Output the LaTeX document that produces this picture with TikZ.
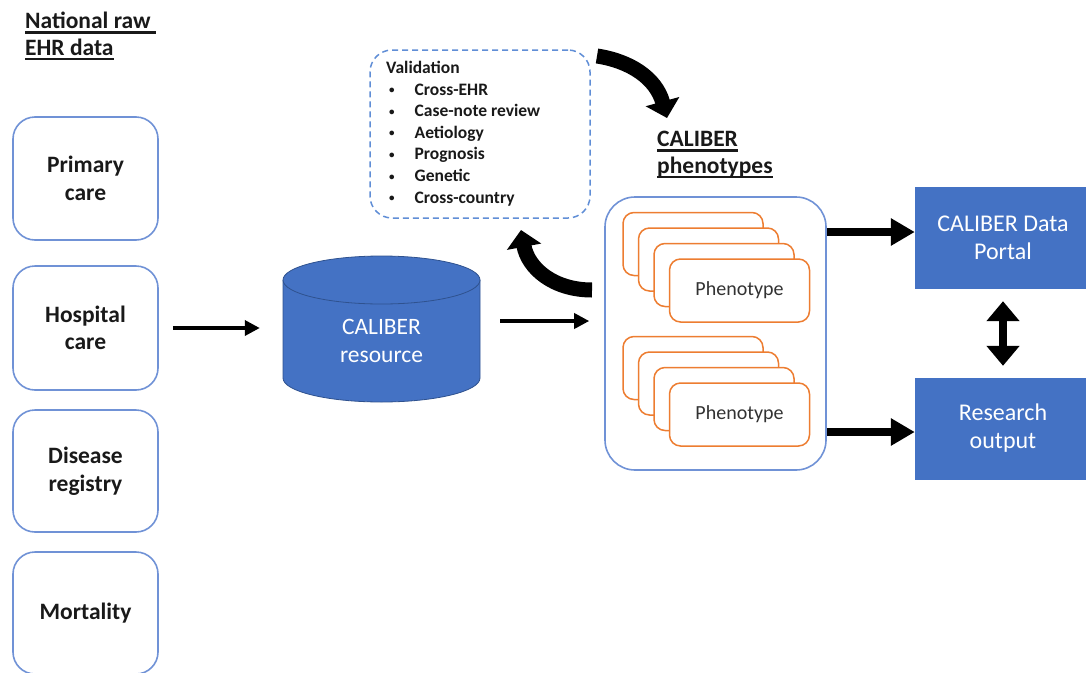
\documentclass[tikz,border=0pt]{standalone}
\usepackage{fontspec}
\setmainfont{Carlito}
\usetikzlibrary{arrows.meta}
\definecolor{cblue}{RGB}{68,114,196}
\definecolor{cdark}{RGB}{47,82,143}
\definecolor{cline}{RGB}{112,146,214}
\definecolor{cdash}{RGB}{96,142,214}
\definecolor{corange}{RGB}{237,125,49}
\definecolor{ctext}{RGB}{25,25,25}
\definecolor{cgray}{RGB}{50,50,50}
\newcommand{\myul}[1]{\setbox0\hbox{#1}\rlap{\rule[-5pt]{\wd0}{2.4pt}}\box0}
\newcommand{\vitem}[1]{\hspace*{3pt}\raisebox{1.5pt}{\fontsize{11}{11}\selectfont\textbullet}\hspace{20pt}#1}
\begin{document}
\begin{tikzpicture}[x=1pt,y=-1pt,
  srcbox/.style={draw=cline, line width=1.6pt, rounded corners=22pt, minimum width=145pt, align=center, font=\fontsize{23.5}{27.5}\selectfont\bfseries, text=ctext, inner sep=0pt},
  heading/.style={align=left, font=\fontsize{23.5}{26.5}\selectfont\bfseries, text=ctext, inner sep=0pt, anchor=north west},
  pheno/.style={draw=corange, line width=1.5pt, fill=white, rounded corners=11pt, minimum width=140pt, minimum height=63pt, inner sep=0pt},
  outbox/.style={fill=cblue, draw=cblue, minimum width=176pt, minimum height=101pt, align=center, text=white, font=\fontsize{24}{28}\selectfont, inner sep=0pt},
  thinarrow/.style={line width=3.5pt, -{Triangle[length=15pt,width=15pt]}},
  thickarrow/.style={line width=8pt, -{Triangle[length=24pt,width=26pt]}},
  curvarrow/.style={line width=15pt, -{Triangle[length=17pt,width=34pt]}},
]
\useasboundingbox (0,0) rectangle (1086,672);

% heading
\node[heading] (nat) at (25,12) {\myul{National raw\ }\\\myul{EHR data}};

% source boxes
\node[srcbox, minimum height=123pt] (prim) at (85.5,178.5) {Primary\\care};
\node[srcbox, minimum height=124pt] (hosp) at (85.5,328) {Hospital\\care};
\node[srcbox, minimum height=122pt] (dis) at (85.5,471) {Disease\\registry};
\node[srcbox, minimum height=122pt] (mort) at (85.5,613) {Mortality};

% cylinder
\fill[cblue] (283,280) -- (283,378) arc[start angle=180,end angle=360,x radius=98.5pt,y radius=24pt] -- (480,280) -- cycle;
\draw[cdark, line width=0.8pt] (283,280) -- (283,378) arc[start angle=180,end angle=360,x radius=98.5pt,y radius=24pt] -- (480,280);
\draw[cdark, line width=0.8pt, fill=cblue] (381.5,280) ellipse[x radius=98.5pt, y radius=24pt];
\node[minimum width=197pt, minimum height=146pt, align=center, text=white, font=\fontsize{23.5}{28}\selectfont, inner sep=0pt] (res) at (381.5,341) {CALIBER\\resource};

% arrow source -> cylinder
\coordinate (a1s) at ([xshift=14pt]hosp.east);
\draw[thinarrow, shorten >=23pt] (a1s) -- (res.west |- a1s);

% validation box
\node[draw=cdash, line width=1.5pt, dash pattern=on 6pt off 4pt, rounded corners=22pt, minimum width=220pt, minimum height=168pt, inner sep=0pt] (val) at (480,134) {};
\node[anchor=north west, align=left, inner sep=0pt, text=ctext, font=\fontsize{17.5}{21.6}\selectfont\bfseries] (valtxt) at (386,61) {%
Validation\\
\vitem{Cross-EHR}\\
\vitem{Case-note review}\\
\vitem{Aetiology}\\
\vitem{Prognosis}\\
\vitem{Genetic}\\
\vitem{Cross-country}};

% phenotypes heading
\node[heading] (phh) at (657,131) {\myul{CALIBER}\\\myul{phenotypes}};

% container
\node[draw=cline, line width=1.6pt, rounded corners=30pt, minimum width=221pt, minimum height=273pt, inner sep=0pt] (cont) at (715.5,333.5) {};

% phenotype stacks
\node[pheno] (p11) at (693,244) {};
\node[pheno] (p12) at (708.5,259.5) {};
\node[pheno] (p13) at (724,275) {};
\node[pheno, font=\fontsize{20}{24}\selectfont, text=cgray] (p14) at (739.5,290.5) {Phenotype};
\node[pheno] (p21) at (693,368) {};
\node[pheno] (p22) at (708.5,383.5) {};
\node[pheno] (p23) at (724,399) {};
\node[pheno, font=\fontsize{20}{24}\selectfont, text=cgray] (p24) at (739.5,414.5) {Phenotype};

% arrow cylinder -> container
\coordinate (a2s) at (500,321);
\draw[thinarrow, shorten >=15pt] (a2s) -- (cont.west |- a2s);

% output boxes
\node[outbox] (portal) at (1003,237.5) {CALIBER Data\\Portal};
\node[outbox] (resout) at (1003,428.5) {Research\\output};

\coordinate (t1) at ([yshift=5.5pt]cont.east |- portal.west);
\coordinate (t2) at ([yshift=-3.5pt]cont.east |- resout.west);
\draw[thickarrow] (t1) -- (portal.west |- t1);
\draw[thickarrow] (t2) -- (resout.west |- t2);
\draw[line width=8pt, {Triangle[length=20pt,width=32pt]}-{Triangle[length=20pt,width=32pt]}] ([yshift=-13pt]portal.south) -- ([yshift=12pt]resout.north);

% curved arrows
\coordinate (c1s) at (597,56);
\coordinate (c2s) at (592,290);
\draw[curvarrow] (c1s) .. controls (630,61) and (656,78) .. (667,118);
\draw[curvarrow] (c2s) .. controls (553,290) and (528,268) .. (521,230);
\end{tikzpicture}
\end{document}
